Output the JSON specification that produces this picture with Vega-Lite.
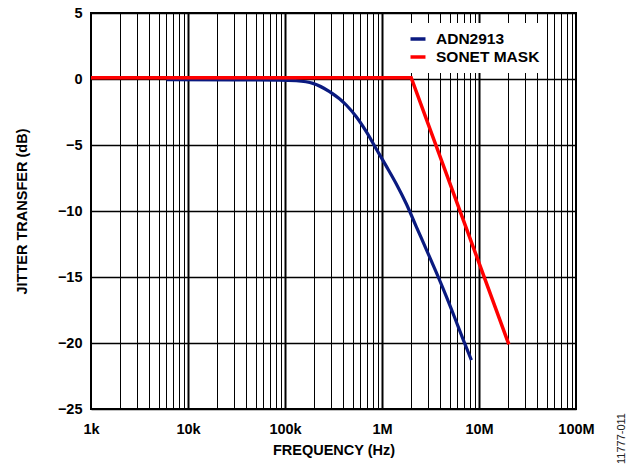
{
  "$schema": "https://vega.github.io/schema/vega-lite/v6.json",
  "width": 485,
  "height": 396,
  "autosize": {"type": "none"},
  "padding": {"left": 91, "top": 13, "right": 63, "bottom": 59},
  "background": "white",
  "config": {
    "view": {"stroke": "black", "strokeWidth": 2},
    "font": "Liberation Sans"
  },
  "data": {
    "values": [
      {"series": "ADN2913", "freq": 6000, "db": -0.05},
      {"series": "ADN2913", "freq": 30000, "db": -0.06},
      {"series": "ADN2913", "freq": 87700, "db": -0.08},
      {"series": "ADN2913", "freq": 130000, "db": -0.13},
      {"series": "ADN2913", "freq": 194000, "db": -0.33},
      {"series": "ADN2913", "freq": 288000, "db": -0.96},
      {"series": "ADN2913", "freq": 428000, "db": -1.97},
      {"series": "ADN2913", "freq": 543000, "db": -2.86},
      {"series": "ADN2913", "freq": 689000, "db": -3.99},
      {"series": "ADN2913", "freq": 873000, "db": -5.3},
      {"series": "ADN2913", "freq": 1107000, "db": -6.6},
      {"series": "ADN2913", "freq": 1405000, "db": -7.95},
      {"series": "ADN2913", "freq": 1780000, "db": -9.45},
      {"series": "ADN2913", "freq": 2260000, "db": -11.2},
      {"series": "ADN2913", "freq": 2860000, "db": -12.9},
      {"series": "ADN2913", "freq": 3600000, "db": -14.6},
      {"series": "ADN2913", "freq": 4500000, "db": -16.3},
      {"series": "ADN2913", "freq": 5700000, "db": -18.2},
      {"series": "ADN2913", "freq": 7000000, "db": -19.9},
      {"series": "ADN2913", "freq": 8350000, "db": -21.3},
      {"series": "SONET MASK", "freq": 1000, "db": 0.1},
      {"series": "SONET MASK", "freq": 2000000, "db": 0.1},
      {"series": "SONET MASK", "freq": 20300000, "db": -20.1}
    ]
  },
  "encoding": {
    "x": {
      "field": "freq",
      "type": "quantitative",
      "scale": {"type": "log", "domain": [1000, 100000000], "nice": false},
      "axis": {
        "title": "FREQUENCY (Hz)",
        "values": [1000,2000,3000,4000,5000,6000,7000,8000,9000,10000,20000,30000,40000,50000,60000,70000,80000,90000,100000,200000,300000,400000,500000,600000,700000,800000,900000,1000000,2000000,3000000,4000000,5000000,6000000,7000000,8000000,9000000,10000000,20000000,30000000,40000000,50000000,60000000,70000000,80000000,90000000,100000000],
        "labelExpr": "datum.value == 1000 ? '1k' : datum.value == 10000 ? '10k' : datum.value == 100000 ? '100k' : datum.value == 1000000 ? '1M' : datum.value == 10000000 ? '10M' : datum.value == 100000000 ? '100M' : ''",
        "labelOverlap": false,
        "labelFlush": false,
        "labelBound": false,
        "ticks": false,
        "domain": false,
        "grid": true,
        "gridColor": "black",
        "gridOpacity": 1,
        "gridWidth": {"condition": {"test": "indexof([10000,100000,1000000,10000000], datum.value) >= 0", "value": 2}, "value": 1},
        "labelFont": "Liberation Sans",
        "labelFontWeight": "bold",
        "labelFontSize": 14.5,
        "labelColor": "black",
        "labelPadding": 13,
        "titleFont": "Liberation Sans",
        "titleFontWeight": "bold",
        "titleFontSize": 14.5,
        "titleColor": "black",
        "titlePadding": 8
      }
    },
    "y": {
      "field": "db",
      "type": "quantitative",
      "scale": {"domain": [-25, 5], "nice": false, "zero": false}
    },
    "color": {
      "field": "series",
      "type": "nominal",
      "scale": {"domain": ["ADN2913", "SONET MASK"], "range": ["#0a1a80", "#ff0000"]},
      "legend": {
        "title": null,
        "orient": "none",
        "legendX": 311,
        "legendY": 10,
        "fillColor": "white",
        "padding": 7,
        "symbolType": "M-1.07,0L1.07,0",
        "symbolSize": 196,
        "symbolStrokeWidth": 3.5,
        "labelFont": "Liberation Sans",
        "labelFontWeight": "bold",
        "labelFontSize": 15.5,
        "labelColor": "black",
        "labelOffset": 9,
        "rowPadding": -6
      }
    }
  },
  "layer": [
    {
      "transform": [{"filter": "datum.series == 'ADN2913'"}],
      "mark": {"type": "line", "strokeWidth": 3.2, "interpolate": "monotone"},
      "encoding": {
        "y": {
          "field": "db",
          "type": "quantitative",
          "scale": {"domain": [-25, 5], "nice": false, "zero": false},
          "axis": {
            "title": "JITTER TRANSFER (dB)",
            "values": [-25, -20, -15, -10, -5, 0, 5],
            "ticks": false,
            "domain": false,
            "grid": true,
            "gridColor": "black",
            "gridOpacity": 1,
            "gridWidth": 1.3,
            "labelFont": "Liberation Sans",
            "labelFontWeight": "bold",
            "labelFontSize": 14.5,
            "labelColor": "black",
            "labelPadding": 9,
            "labelFlush": false,
            "labelOverlap": false,
            "titleFont": "Liberation Sans",
            "titleFontWeight": "bold",
            "titleFontSize": 14.5,
            "titleColor": "black",
            "titlePadding": 28
          }
        }
      }
    },
    {
      "transform": [{"filter": "datum.series == 'SONET MASK'"}],
      "mark": {"type": "line", "strokeWidth": 3.5},
      "encoding": {
        "y": {
          "field": "db",
          "type": "quantitative",
          "scale": {"domain": [-25, 5], "nice": false, "zero": false},
          "axis": {
            "orient": "right",
            "labels": false,
            "ticks": false,
            "domain": false,
            "grid": false,
            "title": "11777-011",
            "titleFont": "Liberation Sans",
            "titleFontWeight": "normal",
            "titleFontSize": 11,
            "titleColor": "#222222",
            "titleAngle": 270,
            "titleX": 45,
            "titleY": 425,
            "titleAlign": "center",
            "titleBaseline": "middle"
          }
        }
      }
    }
  ],
  "resolve": {"axis": {"y": "independent"}}
}
